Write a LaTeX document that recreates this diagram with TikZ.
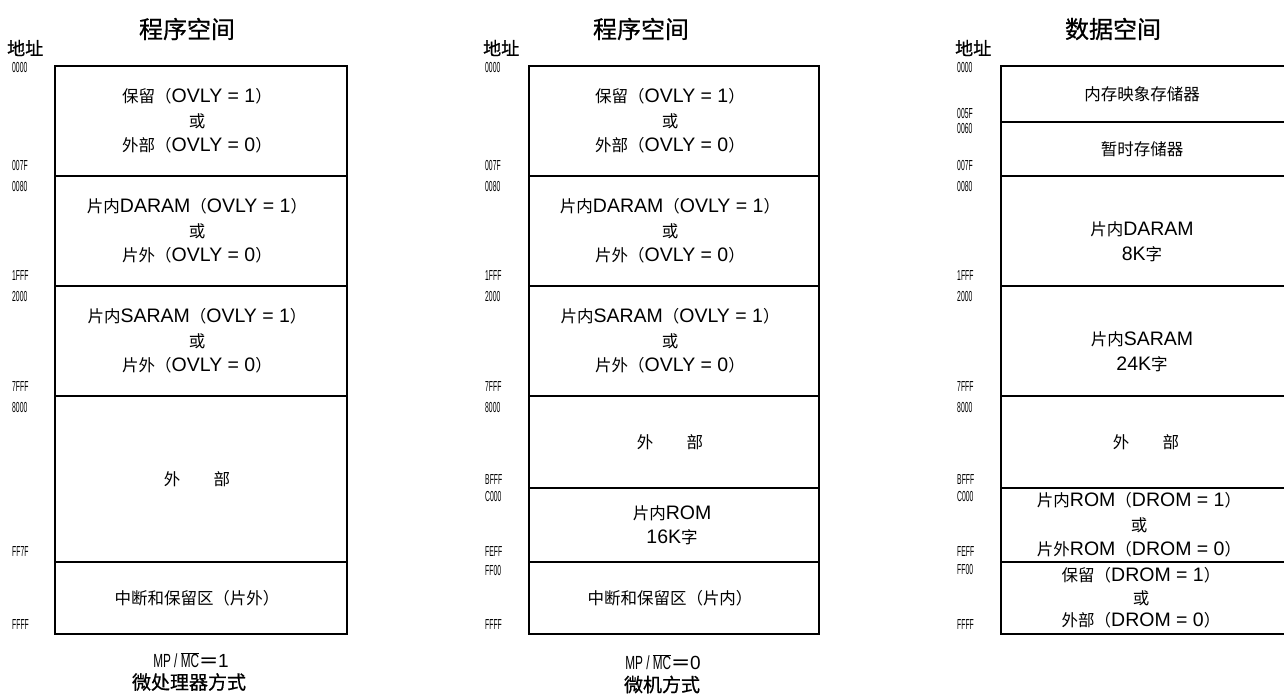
\documentclass[tikz,border=0pt]{standalone}
\usepackage{fontspec}
\usepackage{graphicx}
\setmainfont{Liberation Sans}
\newfontfamily\cjk{Noto Sans CJK SC}
\newfontfamily\cjkh{Noto Sans CJK SC}[FakeBold=0.7]
\newfontfamily\cjks{Noto Sans CJK SC}[Scale=0.846]
\newcommand\zh[1]{{\cjks #1}}
\newcommand\narrow[1]{\scalebox{0.47}[1]{#1}}
\tikzset{
  region/.style={draw, line width=1.8pt, inner sep=0pt, outer sep=0pt, anchor=north west},
  txt/.style={align=center, inner sep=0pt, font=\fontsize{19.5}{24.5}\selectfont},
  addr/.style={anchor=west, inner sep=0pt, font=\fontsize{14.5}{14.5}\selectfont},
  ttl/.style={inner sep=0pt, font=\fontsize{24}{24}\selectfont\cjkh},
  dizhi/.style={anchor=west, inner sep=0pt, font=\fontsize{18}{18}\selectfont\cjkh},
  captxt/.style={inner sep=0pt, font=\fontsize{19}{19}\selectfont},
  capzh/.style={inner sep=0pt, font=\fontsize{19}{19}\selectfont\cjkh}
}
\begin{document}
\begin{tikzpicture}[x=1pt,y=-1pt]
\clip (0,0) rectangle (1284,695);
\fill[white] (0,0) rectangle (1284,695);

% ---------- titles ----------
\node[ttl] (t1) at (187,29) {程序空间};
\node[ttl] (t2) at (641,29) {程序空间};
\node[ttl] (t3) at (1113,29) {数据空间};
\node[dizhi] (d1) at (7,48) {地址};
\node[dizhi] (d2) at (483,48) {地址};
\node[dizhi] (d3) at (955,48) {地址};

% ---------- left column ----------
\node[region, minimum width=292, minimum height=110] (L1) at (55,66) {};
\node[region, minimum width=292, minimum height=110] (L2) at (55,176) {};
\node[region, minimum width=292, minimum height=110] (L3) at (55,286) {};
\node[region, minimum width=292, minimum height=166] (L4) at (55,396) {};
\node[region, minimum width=292, minimum height=72] (L5) at (55,562) {};
\node[txt] (L1t) at ([xshift=-4pt]L1.center) {\zh{保留（}OVLY = 1\zh{）}\\\zh{或}\\\zh{外部（}OVLY = 0\zh{）}};
\node[txt] (L2t) at ([xshift=-4pt]L2.center) {\zh{片内}DARAM\zh{（}OVLY = 1\zh{）}\\\zh{或}\\\zh{片外（}OVLY = 0\zh{）}};
\node[txt] (L3t) at ([xshift=-4pt]L3.center) {\zh{片内}SARAM\zh{（}OVLY = 1\zh{）}\\\zh{或}\\\zh{片外（}OVLY = 0\zh{）}};
\node[txt] (L4t) at ([xshift=-4pt]L4.center) {\zh{外}\hspace{1.7em}\zh{部}};
\node[txt] (L5t) at ([xshift=-4pt]L5.center) {\zh{中断和保留区（片外）}};
\foreach \yy/\lab in {68/0000,166/007F,187/0080,276/1FFF,297/2000,387/7FFF,408/8000,552/FF7F,625/FFFF}
  \node[addr] at (12,\yy) {\narrow{\lab}};

% ---------- middle column ----------
\node[region, minimum width=290, minimum height=110] (M1) at (529,66) {};
\node[region, minimum width=290, minimum height=110] (M2) at (529,176) {};
\node[region, minimum width=290, minimum height=110] (M3) at (529,286) {};
\node[region, minimum width=290, minimum height=92] (M4) at (529,396) {};
\node[region, minimum width=290, minimum height=74] (M5) at (529,488) {};
\node[region, minimum width=290, minimum height=72] (M6) at (529,562) {};
\node[txt] (M1t) at ([xshift=-4pt]M1.center) {\zh{保留（}OVLY = 1\zh{）}\\\zh{或}\\\zh{外部（}OVLY = 0\zh{）}};
\node[txt] (M2t) at ([xshift=-4pt]M2.center) {\zh{片内}DARAM\zh{（}OVLY = 1\zh{）}\\\zh{或}\\\zh{片外（}OVLY = 0\zh{）}};
\node[txt] (M3t) at ([xshift=-4pt]M3.center) {\zh{片内}SARAM\zh{（}OVLY = 1\zh{）}\\\zh{或}\\\zh{片外（}OVLY = 0\zh{）}};
\node[txt] (M4t) at ([xshift=-4pt]M4.center) {\zh{外}\hspace{1.7em}\zh{部}};
\node[txt] (M5t) at ([xshift=-2pt]M5.center) {\zh{片内}ROM\\16K\zh{字}};
\node[txt] (M6t) at ([xshift=-4pt]M6.center) {\zh{中断和保留区（片内）}};
\foreach \yy/\lab in {68/0000,166/007F,187/0080,276/1FFF,297/2000,387/7FFF,408/8000,480/BFFF,497/C000,552/FEFF,571/FF00,625/FFFF}
  \node[addr] at (485,\yy) {\narrow{\lab}};

% ---------- right column ----------
\node[region, minimum width=300, minimum height=56] (R1) at (1001,66) {};
\node[region, minimum width=300, minimum height=54] (R2) at (1001,122) {};
\node[region, minimum width=300, minimum height=110] (R3) at (1001,176) {};
\node[region, minimum width=300, minimum height=110] (R4) at (1001,286) {};
\node[region, minimum width=300, minimum height=92] (R5) at (1001,396) {};
\node[region, minimum width=300, minimum height=74] (R6) at (1001,488) {};
\node[region, minimum width=300, minimum height=72] (R7) at (1001,562) {};
\node[txt] (R1t) at (1142,94) {\zh{内存映象存储器}};
\node[txt] (R2t) at (1142,149) {\zh{暂时存储器}};
\node[txt] (R3t) at (1142,241.5) {\zh{片内}DARAM\\8K\zh{字}};
\node[txt] (R4t) at (1142,351.5) {\zh{片内}SARAM\\24K\zh{字}};
\node[txt] (R5t) at (1146,442) {\zh{外}\hspace{1.7em}\zh{部}};
\node[txt] (R6t) at (1139,525) {\zh{片内}ROM\zh{（}DROM = 1\zh{）}\\\zh{或}\\\zh{片外}ROM\zh{（}DROM = 0\zh{）}};
\node[txt, font=\fontsize{19.5}{22.5}\selectfont] (R7t) at (1141,598) {\zh{保留（}DROM = 1\zh{）}\\\zh{或}\\\zh{外部（}DROM = 0\zh{）}};
\foreach \yy/\lab in {68/0000,114/005F,129/0060,166/007F,187/0080,276/1FFF,297/2000,387/7FFF,408/8000,480/BFFF,497/C000,552/FEFF,570/FF00,625/FFFF}
  \node[addr] at (957,\yy) {\narrow{\lab}};

% ---------- captions ----------
\node[captxt] (c1) at (191,660) {\scalebox{0.62}[1]{MP / $\overline{\mbox{MC}}$}{\cjkh ＝}1};
\node[capzh] (c1b) at (189,682) {微处理器方式};
\node[captxt] (c2) at (663,662) {\scalebox{0.62}[1]{MP / $\overline{\mbox{MC}}$}{\cjkh ＝}0};
\node[capzh] (c2b) at (662,684.5) {微机方式};
\end{tikzpicture}
\end{document}
